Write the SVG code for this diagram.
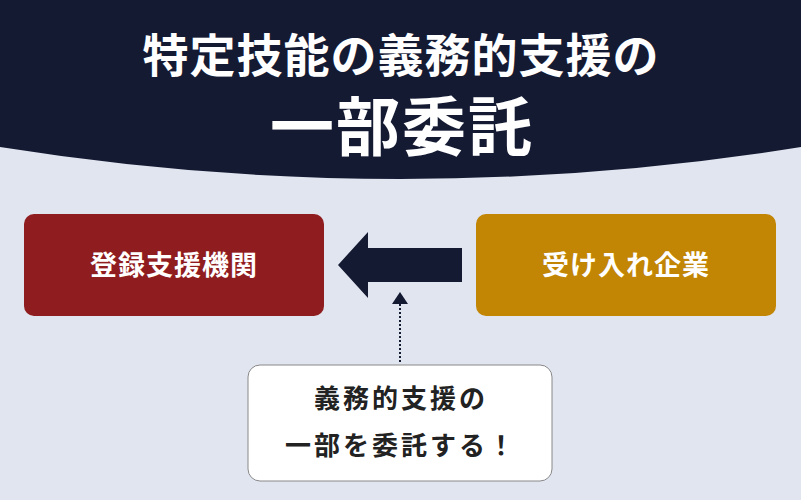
<svg xmlns="http://www.w3.org/2000/svg" width="801" height="500" viewBox="0 0 801 500">
<style>
text{font-family:"Noto Sans CJK JP","Noto Sans",sans-serif;font-weight:bold;text-anchor:middle}
.w{fill:#fff}
</style>
<rect width="801" height="500" fill="#e1e5ef"/>
<g id="header">
<path d="M0 0H801V147Q400 211 0 147Z" fill="#151a33"/>
<text class="w" x="401" y="72" font-size="46" letter-spacing="1">特定技能の義務的支援の</text>
<text class="w" x="402" y="150" font-size="64" letter-spacing="2">一部委託</text>
</g>
<g id="node-registered">
<rect x="24" y="214" width="300" height="102" rx="10" fill="#8f1c1e"/>
<text class="w" x="174" y="275" font-size="27" letter-spacing="1">登録支援機関</text>
</g>
<g id="node-company">
<rect x="476" y="214" width="300" height="102" rx="10" fill="#c28504"/>
<text class="w" x="626" y="275" font-size="27" letter-spacing="1">受け入れ企業</text>
</g>
<g id="node-note">
<rect x="248" y="365" width="304" height="116" rx="12" fill="#fff" stroke="#888" stroke-width="1"/>
<text x="401" y="408" font-size="26" fill="#222" letter-spacing="3">義務的支援の</text>
<text x="401" y="455" font-size="26" fill="#222" letter-spacing="3">一部を委託する！</text>
</g>
<g id="connectors">
<path d="M462 248H368V232L338 265L368 298V282H462Z" fill="#151a33"/>
<line x1="400" y1="362" x2="400" y2="302" stroke="#151a33" stroke-width="2" stroke-dasharray="2 2"/>
<path d="M392 304L400 292L408 304Z" fill="#151a33"/>
</g>
</svg>
